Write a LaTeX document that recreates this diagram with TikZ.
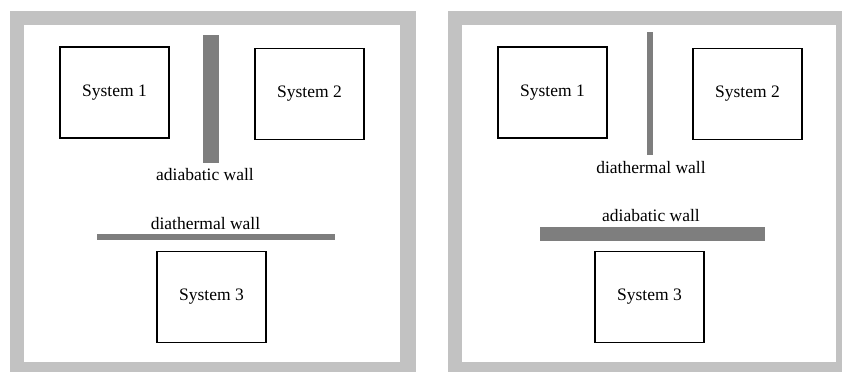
\documentclass[tikz,border=0pt]{standalone}
\usepackage{fontspec}
\setmainfont{Liberation Serif}
\definecolor{framegray}{HTML}{C2C2C2}
\definecolor{wallgray}{HTML}{7E7E7E}
\tikzset{
  sysbox/.style={draw=black, line width=1.4pt, fill=white,
    minimum width=109pt, minimum height=91pt, inner sep=0pt,
    font=\fontsize{17.5}{20}\selectfont},
  walllabel/.style={anchor=base, inner sep=0pt,
    font=\fontsize{17.5}{20}\selectfont},
}
\begin{document}
\begin{tikzpicture}[x=1pt,y=-1pt]
  \useasboundingbox (0,0) rectangle (843,372);
  % panel frames
  \fill[framegray] (10,11) rectangle (416,372);
  \fill[white] (24,25) rectangle (400,362);
  \fill[framegray] (448,11) rectangle (842,372);
  \fill[white] (462,25) rectangle (836,362);

  % left panel: adiabatic wall between 1 and 2, diathermal wall above 3
  \fill[wallgray] (203,35) rectangle (219,163);
  \fill[wallgray] (97,234) rectangle (335,240);
  \node[sysbox] (la) at (114.5,92.5) {System 1};
  \node[sysbox] (lb) at (309.5,94) {System 2};
  \node[sysbox] (lc) at (211.5,297) {System 3};
  \node[walllabel] (lw1) at (205,180) {adiabatic wall};
  \node[walllabel] (lw2) at (205.5,229) {diathermal wall};

  % right panel: diathermal wall between 1 and 2, adiabatic wall above 3
  \fill[wallgray] (647,32) rectangle (653,155);
  \fill[wallgray] (540,227) rectangle (765,241);
  \node[sysbox] (ra) at (552.5,92.5) {System 1};
  \node[sysbox] (rb) at (747.5,94) {System 2};
  \node[sysbox] (rc) at (649.5,297) {System 3};
  \node[walllabel] (rw1) at (651,173) {diathermal wall};
  \node[walllabel] (rw2) at (651,221) {adiabatic wall};
\end{tikzpicture}
\end{document}
